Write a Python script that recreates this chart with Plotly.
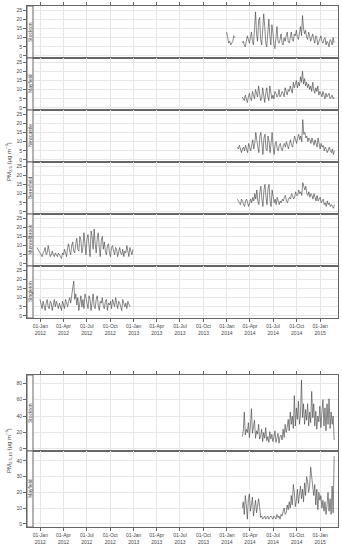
import plotly.graph_objects as go
import pandas as pd

# ---------------- data ----------------
tick_dates = ["2012-01-01", "2012-04-01", "2012-07-01", "2012-10-01", "2013-01-01",
              "2013-04-01", "2013-07-01", "2013-10-01", "2014-01-01", "2014-04-01",
              "2014-07-01", "2014-10-01", "2015-01-01"]
tick_labels = ["01-Jan<br>2012", "01-Apr<br>2012", "01-Jul<br>2012", "01-Oct<br>2012",
               "01-Jan<br>2013", "01-Apr<br>2013", "01-Jul<br>2013", "01-Oct<br>2013",
               "01-Jan<br>2014", "01-Apr<br>2014", "01-Jul<br>2014", "01-Oct<br>2014",
               "01-Jan<br>2015"]

stockton_early_start = "2013-12-31"
stockton_early = [13, 9, 7, 8, 6, 7, 8, 11, 10]

stockton_start = "2014-03-02"
stockton_pm25 = [7, 8, 6, 5, 8, 11, 9, 7,
                 10, 13, 8, 6, 15, 24, 12,
                 8, 19, 21, 9, 6, 14, 23, 16,
                 7, 5, 12, 20, 11, 6, 17, 13,
                 6, 4, 10, 16, 8, 7, 9,
                 12, 7, 6, 10, 8, 11, 13, 8,
                 7, 10, 13, 9, 8, 12, 11, 14,
                 10, 9, 13, 16, 11, 22, 15,
                 12, 14, 10, 9, 13, 11, 8, 10,
                 12, 9, 7, 11, 10, 6, 8, 10,
                 11, 8, 7, 9, 10, 6, 8,
                 7, 5, 9, 8, 6, 10, 7]

mayfield_start = "2014-03-02"
mayfield_pm25 = [6, 5, 4, 7, 5, 3, 6, 8,
                 5, 4, 9, 7, 5, 10, 8,
                 6, 12, 9, 4, 5, 11, 7, 3,
                 8, 11, 6, 4, 12, 9, 5, 7,
                 5, 9, 8, 6, 7, 10, 6,
                 7, 9, 8, 6, 11, 9, 7, 10,
                 9, 12, 10, 8, 14, 11, 13, 15,
                 11, 14, 12, 17, 14, 20, 13,
                 16, 12, 14, 11, 13, 10, 12, 9,
                 14, 10, 8, 11, 9, 12, 7, 9,
                 8, 6, 9, 7, 5, 8, 6,
                 7, 8, 5, 6, 7, 5, 6]

newcastle_start = "2014-02-11"
newcastle_pm25 = [7, 6, 8, 5, 4,
                  6, 7, 5, 8, 6, 4, 9, 6,
                  5, 8, 11, 6, 9, 15, 10,
                  7, 4, 13, 15, 8, 3, 12, 14,
                  6, 5, 13, 10, 4, 11, 15, 7,
                  3, 9, 10, 6, 5, 8, 9,
                  6, 5, 8, 9, 7, 10, 8, 6,
                  9, 11, 8, 7, 10, 13, 11, 9,
                  12, 14, 11, 13, 10, 22, 14,
                  15, 12, 13, 10, 12, 11, 9, 12,
                  10, 8, 11, 9, 7, 12, 9, 6,
                  9, 7, 8, 5, 7, 6, 4,
                  6, 7, 5, 4, 6, 3, 5]

beresfield_start = "2014-02-11"
beresfield_pm25 = [7, 6, 5, 4, 7,
                   6, 4, 3, 6, 7, 5, 3, 5,
                   7, 5, 8, 6, 10, 7, 12,
                   6, 4, 11, 14, 7, 3, 12, 15,
                   8, 4, 13, 15, 6, 3, 12, 9,
                   5, 7, 4, 8, 6, 4, 6,
                   5, 7, 6, 8, 9, 6, 5, 7,
                   8, 7, 10, 9, 7, 8, 11, 9,
                   9, 12, 10, 11, 9, 16, 13,
                   12, 14, 10, 9, 11, 8, 10, 9,
                   7, 10, 8, 6, 9, 6, 7, 8,
                   5, 6, 7, 4, 5, 3, 6,
                   4, 5, 3, 4, 3, 2, 4]

muswellbrook_start = "2011-12-19"
muswellbrook_pm25 = [9, 8, 7, 6,
                     5, 4, 6, 7, 9, 5, 6,
                     10, 7, 4, 5, 7, 5, 4, 6,
                     5, 4, 6, 5, 4, 3, 6,
                     5, 8, 6, 4, 9, 11, 7, 5,
                     10, 12, 7, 6, 11, 14, 8, 7,
                     15, 13, 6, 9, 17, 11, 5, 14,
                     16, 10, 4, 18, 15, 8, 19, 11,
                     6, 14, 17, 9, 4, 13, 15, 8,
                     12, 7, 5, 10, 11, 6, 4, 9,
                     10, 7, 5, 9, 8, 4, 7,
                     9, 6, 5, 8, 4, 7, 6, 10,
                     6, 4, 9, 7, 5, 8]

singleton_start = "2011-12-31"
singleton_pm25 = [9, 7, 4, 8, 6, 3, 7, 9,
                  5, 4, 8, 7, 3, 6, 9,
                  5, 8, 6, 4, 7, 5, 3, 8,
                  6, 4, 9, 7, 5, 8, 10,
                  7, 11, 13, 19, 9, 12, 6, 10,
                  3, 8, 11, 5, 9, 4, 12, 10,
                  6, 4, 11, 9, 3, 10, 12, 5,
                  4, 9, 11, 6, 3, 8, 7,
                  10, 5, 4, 8, 9, 3, 7, 6,
                  8, 4, 9, 7, 5, 10, 6,
                  4, 8, 7, 5, 3, 9, 6, 5,
                  7, 4, 8, 6, 5]

stockton_coarse_start = "2014-03-02"
stockton_pm2510 = [15, 22, 45, 17, 24, 20, 32, 14,
                   28, 49, 19, 25, 35, 13, 22,
                   18, 30, 12, 16, 24, 9, 20, 13,
                   26, 10, 15, 8, 21, 12, 18, 9,
                   14, 22, 8, 12, 19, 7, 15,
                   17, 11, 24, 14, 30, 20, 26, 36,
                   22, 45, 30, 40, 25, 65, 28, 50,
                   36, 58, 30, 42, 84, 38, 55,
                   30, 48, 35, 55, 28, 45, 32, 70,
                   38, 55, 28, 46, 24, 40, 33, 52,
                   26, 45, 60, 28, 50, 22, 55,
                   30, 61, 25, 45, 30, 40, 11]

mayfield_coarse_start = "2014-03-02"
mayfield_pm2510 = [10, 14, 6, 18, 12, 3, 16, 19,
                   8, 12, 17, 5, 9, 15, 7,
                   14, 16, 11, 4, 5, 3, 4, 5,
                   3, 4, 5, 3, 4, 5, 4, 3,
                   5, 4, 3, 6, 4, 5, 3,
                   6, 5, 8, 10, 6, 7, 12, 9,
                   14, 10, 18, 12, 25, 20, 11, 15,
                   22, 13, 19, 24, 16, 22, 14,
                   26, 18, 30, 27, 20, 24, 36, 30,
                   22, 18, 25, 12, 22, 9, 20, 15,
                   18, 10, 15, 8, 14, 6, 12,
                   20, 8, 16, 6, 24, 7, 43]

fine_ticks = [0, 5, 10, 15, 20, 25]
coarse_ticks_stockton = [0, 20, 40, 60, 80]
coarse_ticks_mayfield = [0, 10, 20, 30, 40]

# ---------------- layout helpers ----------------
W, H = 342, 550
def px(x):
    return x / W
def py(y):
    return 1 - y / H

X_LEFT, X_RIGHT, STRIP_R = 27, 338, 33
x_range = ["2011-11-10", "2015-03-12"]
TXT = "#444444"
FRAME = "#666666"
GRID = "#e6e6e6"
FONT = "Liberation Sans"

def series(start, vals):
    return list(pd.date_range(start, periods=len(vals), freq="4D")), vals

fig = go.Figure()

st_x1, st_y1 = series(stockton_early_start, stockton_early)
st_x2, st_y2 = series(stockton_start, stockton_pm25)
fine_range = [-1.1, 27.2]
panels = [
    ("Stockton", 6, 58, fine_range, fine_ticks, (st_x1 + [None] + st_x2, st_y1 + [None] + st_y2), "top"),
    ("Mayfield", 58, 110, fine_range, fine_ticks, series(mayfield_start, mayfield_pm25), None),
    ("Newcastle", 110, 162, fine_range, fine_ticks, series(newcastle_start, newcastle_pm25), None),
    ("Beresfield", 162, 214, fine_range, fine_ticks, series(beresfield_start, beresfield_pm25), None),
    ("Muswellbrook", 214, 266, fine_range, fine_ticks, series(muswellbrook_start, muswellbrook_pm25), None),
    ("Singleton", 266, 318, fine_range, fine_ticks, series(singleton_start, singleton_pm25), "bottom"),
    ("Stockton", 375, 451, [-2.5, 90], coarse_ticks_stockton, series(stockton_coarse_start, stockton_pm2510), "top"),
    ("Mayfield", 451, 527, [-2, 46.3], coarse_ticks_mayfield, series(mayfield_coarse_start, mayfield_pm2510), "bottom"),
]

shapes = []
annotations = []
for i, (name, yt, yb, yr, yticks, (xs, ys), tickside) in enumerate(panels, start=1):
    sfx = "" if i == 1 else str(i)
    fig.add_trace(go.Scatter(x=xs, y=ys, mode="lines", xaxis="x" + sfx, yaxis="y" + sfx,
                             line=dict(color="#3a3a3a", width=0.6), connectgaps=False,
                             showlegend=False, hoverinfo="skip"))
    xa = dict(domain=[px(X_LEFT), px(X_RIGHT)], range=x_range, type="date",
              anchor="y" + sfx, tickvals=tick_dates, ticktext=tick_labels,
              showgrid=True, gridcolor=GRID, gridwidth=0.6, zeroline=False,
              showline=True, mirror=True, linecolor=FRAME, linewidth=1,
              tickfont=dict(size=5, color=TXT, family=FONT))
    if tickside == "top":
        xa.update(side="top", ticks="outside", ticklen=3, tickcolor=FRAME, tickwidth=0.7,
                  showticklabels=False)
    elif tickside == "bottom":
        xa.update(side="bottom", ticks="outside", ticklen=3, tickcolor=FRAME, tickwidth=0.7,
                  showticklabels=True)
    else:
        xa.update(ticks="", showticklabels=False)
    ya = dict(domain=[py(yb), py(yt)], range=yr, anchor="x" + sfx, tickvals=yticks,
              showgrid=True, gridcolor=GRID, gridwidth=0.6, zeroline=False,
              showline=True, mirror=True, linecolor=FRAME, linewidth=1,
              ticks="outside", ticklen=3, tickcolor=FRAME, tickwidth=0.7,
              tickfont=dict(size=5, color=TXT, family=FONT))
    fig.update_layout(**{"xaxis" + sfx: xa, "yaxis" + sfx: ya})
    shapes.append(dict(type="rect", xref="paper", yref="paper",
                       x0=px(X_LEFT), x1=px(STRIP_R), y0=py(yb), y1=py(yt),
                       fillcolor="white", line=dict(color=FRAME, width=1), layer="above"))
    annotations.append(dict(text=name, xref="paper", yref="paper",
                            x=px((X_LEFT + STRIP_R) / 2), y=py((yt + yb) / 2),
                            textangle=-90, showarrow=False,
                            font=dict(size=5, color=TXT, family=FONT),
                            xanchor="center", yanchor="middle"))

annotations.append(dict(text="PM<sub>2.5</sub> (μg m<sup>−3</sup>)", xref="paper", yref="paper",
                        x=px(8), y=py(162), textangle=-90, showarrow=False,
                        font=dict(size=6, color=TXT, family=FONT),
                        xanchor="center", yanchor="middle"))
annotations.append(dict(text="PM<sub>2.5-10</sub> (μg m<sup>−3</sup>)", xref="paper", yref="paper",
                        x=px(8), y=py(451), textangle=-90, showarrow=False,
                        font=dict(size=6, color=TXT, family=FONT),
                        xanchor="center", yanchor="middle"))

fig.update_layout(width=W, height=H, margin=dict(l=0, r=0, t=0, b=0),
                  paper_bgcolor="white", plot_bgcolor="white",
                  shapes=shapes, annotations=annotations, showlegend=False)

fig.write_html("out.html", config={"displayModeBar": False},
               post_script="document.documentElement.style.margin='0';"
                           "document.body.style.margin='0';document.body.style.padding='0';"
                           "document.body.style.overflow='hidden';")
